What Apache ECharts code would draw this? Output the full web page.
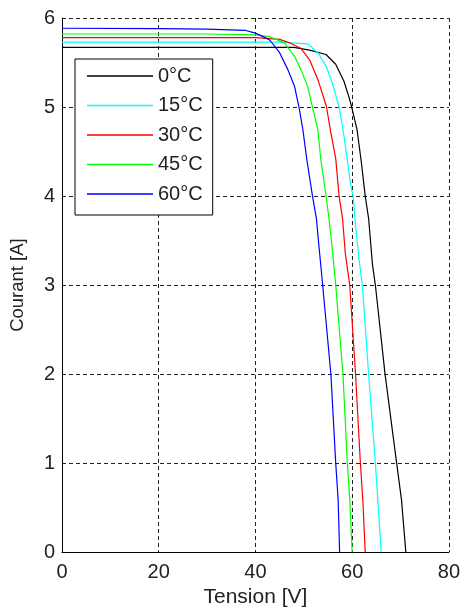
<!DOCTYPE html>
<html>
<head>
<meta charset="utf-8">
<script src="https://cdn.jsdelivr.net/npm/echarts@6/dist/echarts.min.js"></script>
<style>
  html, body { margin: 0; padding: 0; background: #fff; }
  #main { width: 463px; height: 613px; }
</style>
</head>
<body>
<div id="main"></div>
<script>
// I-V curves, [tension V, courant A]
const t0 = [[0,5.67],[48,5.67],[51.2,5.64],[54.6,5.59],[56.6,5.48],[58.3,5.29],[59.3,5.12],[59.9,5.0],[61.0,4.75],[61.9,4.38],[62.7,4.0],[63.4,3.75],[64.2,3.23],[64.8,3.0],[66.8,2.0],[69.2,1.0],[70.2,0.59],[71.1,0]];
const t15 = [[0,5.73],[45,5.73],[50.8,5.71],[52.9,5.61],[54.6,5.46],[55.9,5.27],[57.3,5.0],[58.3,4.68],[59.7,4.12],[60.2,4.0],[60.7,3.67],[61.4,3.3],[62.1,3.0],[63.4,2.0],[64.8,1.0],[65.3,0.59],[66.0,0]];
const t30 = [[0,5.78],[40,5.78],[45,5.76],[47.1,5.72],[49.4,5.66],[51.2,5.53],[52.9,5.31],[54.2,5.09],[54.7,5.0],[55.6,4.71],[56.6,4.42],[57.3,4.0],[58.0,3.75],[58.6,3.35],[59.5,3.0],[60.7,2.0],[61.7,1.0],[62.2,0.59],[62.7,0]];
const t45 = [[0,5.82],[30,5.82],[40,5.81],[43,5.79],[46,5.72],[48.1,5.57],[49.4,5.42],[50.8,5.23],[51.8,5.0],[52.9,4.75],[53.5,4.42],[54.6,4.0],[55.2,3.75],[55.9,3.4],[56.6,3.0],[58.1,2.0],[59.0,1.0],[59.5,0.59],[60.0,0]];
const t60 = [[0,5.885],[20,5.88],[30,5.875],[38,5.86],[40,5.83],[42,5.78],[43,5.75],[45,5.61],[46.7,5.42],[48.1,5.23],[49,5.0],[49.8,4.75],[50.6,4.42],[51.8,4.0],[52.6,3.75],[53.2,3.4],[53.9,3.0],[55.6,2.0],[56.6,1.0],[57.1,0.59],[57.4,0]];

const names = ['0°C', '15°C', '30°C', '45°C', '60°C'];
const curves = [t0, t15, t30, t45, t60];
const colors = ['#000000', '#00ffff', '#ff0000', '#00ff00', '#0000ff'];

const chart = echarts.init(document.getElementById('main'));

const font = 'Liberation Sans, Arial, sans-serif';
const gridLine = { show: true, lineStyle: { color: '#222', type: [4, 3], width: 1 } };

let series = [];
for (let i = 0; i < curves.length; i++) {
  series.push({
    name: names[i],
    type: 'line',
    data: curves[i],
    showSymbol: false,
    symbol: 'none',
    lineStyle: { color: colors[i], width: 1.2 },
    itemStyle: { color: colors[i] },
    animation: false
  });
}

chart.setOption({
  animation: false,
  grid: { left: 60, right: 12, top: 18, bottom: 57 },
  legend: {
    orient: 'vertical',
    left: 75,
    top: 59,
    data: names,
    icon: 'rect',
    itemWidth: 66,
    itemHeight: 1.6,
    itemGap: 9.5,
    padding: [7, 10, 11, 12],
    borderColor: '#000',
    borderWidth: 1,
    backgroundColor: '#fff',
    textStyle: { fontFamily: font, fontSize: 20, color: '#222', lineHeight: 20 }
  },
  xAxis: {
    type: 'value',
    min: 0,
    max: 80,
    interval: 20,
    name: 'Tension [V]',
    nameLocation: 'middle',
    nameGap: 30,
    nameTextStyle: { fontFamily: font, fontSize: 21, color: '#222' },
    axisLine: { show: true, lineStyle: { color: '#000', width: 1 } },
    axisTick: { show: false },
    axisLabel: { fontFamily: font, fontSize: 20, color: '#222', margin: 10 },
    splitLine: gridLine
  },
  yAxis: {
    type: 'value',
    min: 0,
    max: 6,
    interval: 1,
    name: 'Courant [A]',
    nameLocation: 'middle',
    nameGap: 35,
    nameTextStyle: { fontFamily: font, fontSize: 18.5, color: '#222' },
    axisLine: { show: true, lineStyle: { color: '#000', width: 1 } },
    axisTick: { show: false },
    axisLabel: { fontFamily: font, fontSize: 20, color: '#222', margin: 7 },
    splitLine: gridLine
  },
  series: series
});
</script>
</body>
</html>
